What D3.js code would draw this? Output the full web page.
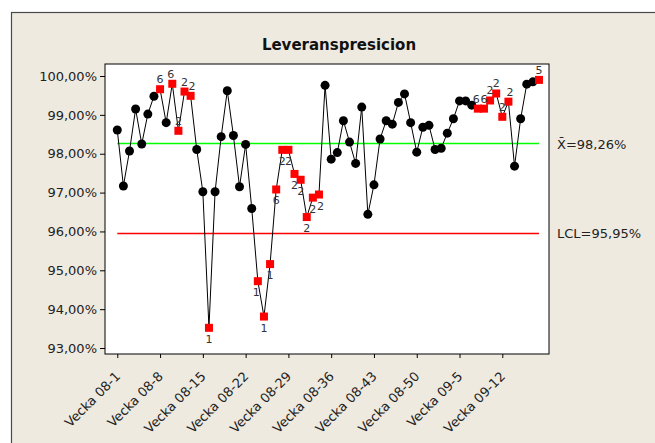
<!DOCTYPE html>
<html>
<head>
<meta charset="utf-8">
<script src="https://cdn.jsdelivr.net/npm/d3@7"></script>
<style>
  body { margin: 0; background: #fff; }
  text { font-family: "DejaVu Sans", sans-serif; }
</style>
</head>
<body>
<svg id="chart"></svg>
<script>
// kategorier (veckor)
var weeks = [
  "Vecka 08-1", "Vecka 08-2", "Vecka 08-3", "Vecka 08-4", "Vecka 08-5", "Vecka 08-6", "Vecka 08-7",
  "Vecka 08-8", "Vecka 08-9", "Vecka 08-10", "Vecka 08-11", "Vecka 08-12", "Vecka 08-13", "Vecka 08-14",
  "Vecka 08-15", "Vecka 08-16", "Vecka 08-17", "Vecka 08-18", "Vecka 08-19", "Vecka 08-20", "Vecka 08-21",
  "Vecka 08-22", "Vecka 08-23", "Vecka 08-24", "Vecka 08-25", "Vecka 08-26", "Vecka 08-27", "Vecka 08-28",
  "Vecka 08-29", "Vecka 08-30", "Vecka 08-31", "Vecka 08-32", "Vecka 08-33", "Vecka 08-34", "Vecka 08-35",
  "Vecka 08-36", "Vecka 08-37", "Vecka 08-38", "Vecka 08-39", "Vecka 08-40", "Vecka 08-41", "Vecka 08-42",
  "Vecka 08-43", "Vecka 08-44", "Vecka 08-45", "Vecka 08-46", "Vecka 08-47", "Vecka 08-48", "Vecka 08-49",
  "Vecka 08-50", "Vecka 08-51", "Vecka 08-52", "Vecka 09-1", "Vecka 09-2", "Vecka 09-3", "Vecka 09-4",
  "Vecka 09-5", "Vecka 09-6", "Vecka 09-7", "Vecka 09-8", "Vecka 09-9", "Vecka 09-10", "Vecka 09-11",
  "Vecka 09-12", "Vecka 09-13", "Vecka 09-14", "Vecka 09-15", "Vecka 09-16", "Vecka 09-17", "Vecka 09-18"
];

// leveransprecision i procent
var values = [
  98.61, 97.17, 98.07, 99.15, 98.25, 99.02, 99.48, 99.66, 98.80, 99.80,
  98.59, 99.60, 99.49, 98.11, 97.02, 93.52, 97.02, 98.44, 99.62, 98.47,
  97.15, 98.24, 96.59, 94.72, 93.81, 95.16, 97.08, 98.10, 98.10, 97.48,
  97.33, 96.37, 96.87, 96.95, 99.76, 97.86, 98.03, 98.85, 98.30, 97.75,
  99.20, 96.44, 97.20, 98.38, 98.85, 98.76, 99.32, 99.54, 98.80, 98.04,
  98.68, 98.73, 98.11, 98.14, 98.53, 98.90, 99.36, 99.36, 99.25, 99.16,
  99.16, 99.37, 99.55, 98.95, 99.34, 97.68, 98.90, 99.79, 99.85, 99.90
];

// vilket test som slog larm ("" = inget)
var tests = [
  "", "", "", "", "", "", "", "6", "", "6",
  "2", "2", "2", "", "", "1", "", "", "", "",
  "", "", "", "1", "1", "1", "6", "2", "2", "2",
  "2", "2", "2", "2", "", "", "", "", "", "",
  "", "", "", "", "", "", "", "", "", "",
  "", "", "", "", "", "", "", "", "", "6",
  "6", "2", "2", "2", "2", "", "", "", "", "5"
];

var yTicks = [93, 94, 95, 96, 97, 98, 99, 100];
var xTicks = [0, 7, 14, 21, 28, 35, 42, 49, 56, 63];
var centerLine = 98.26;
var lcl = 95.95;

var W = 655, H = 443;
var plot = { left: 105, top: 64, right: 549, bottom: 354 };

var svg = d3.select("#chart").attr("width", W).attr("height", H);

// bakgrund / fönsterram
svg.append("rect")
  .attr("x", 11.5).attr("y", 12.5)
  .attr("width", 680).attr("height", 460)
  .attr("fill", "#eeeae0")
  .attr("stroke", "#4a4a4a")
  .attr("stroke-width", 1.2);

svg.append("text")
  .attr("x", 339).attr("y", 50)
  .attr("text-anchor", "middle")
  .style("font-size", "15px")
  .style("font-weight", "bold")
  .attr("fill", "#111")
  .text("Leveranspresicion");

var x = d3.scaleLinear()
  .domain([-2.01, 70.64])
  .range([plot.left, plot.right]);

var y = d3.scaleLinear()
  .domain([92.846, 100.309])
  .range([plot.bottom, plot.top]);

svg.append("rect")
  .attr("x", plot.left).attr("y", plot.top)
  .attr("width", plot.right - plot.left).attr("height", plot.bottom - plot.top)
  .attr("fill", "#fff")
  .attr("stroke", "#000")
  .attr("stroke-width", 1);

var sv = d3.formatLocale({ decimal: ",", thousands: " ", grouping: [3], currency: ["", " kr"] });
var fmt = sv.format(".2f");

// y-axel
var yaxis = svg.append("g")
  .attr("transform", "translate(" + plot.left + ",0)")
  .call(d3.axisLeft(y).tickValues(yTicks).tickSize(5).tickPadding(3)
    .tickFormat(function (d) { return fmt(d) + "%"; }));
yaxis.select(".domain").remove();
yaxis.selectAll("text").style("font-size", "13px").style("font-family", "DejaVu Sans").attr("fill", "#222");

// x-axel
var xaxis = svg.append("g")
  .attr("transform", "translate(0," + plot.bottom + ")")
  .call(d3.axisBottom(x).tickValues(xTicks).tickSize(4)
    .tickFormat(function (i) { return weeks[i]; }));
xaxis.select(".domain").remove();
xaxis.selectAll("text")
  .style("font-size", "13px").style("font-family", "DejaVu Sans").attr("fill", "#222")
  .attr("text-anchor", "end")
  .attr("x", 0).attr("y", 0).attr("dy", "0.35em")
  .attr("transform", "translate(0,20) rotate(-45)");

// centrumlinje och LCL
svg.append("line")
  .attr("x1", x(0)).attr("x2", x(values.length - 1))
  .attr("y1", y(centerLine)).attr("y2", y(centerLine))
  .attr("stroke", "#00ff00").attr("stroke-width", 1.5);
svg.append("line")
  .attr("x1", x(0)).attr("x2", x(values.length - 1))
  .attr("y1", y(lcl)).attr("y2", y(lcl))
  .attr("stroke", "#ff0000").attr("stroke-width", 1.5);

svg.append("text")
  .attr("x", 557).attr("y", y(centerLine)).attr("dy", "0.38em")
  .style("font-size", "13px").attr("fill", "#222")
  .text("X\u0304=" + fmt(centerLine) + "%");
svg.append("text")
  .attr("x", 557).attr("y", y(lcl)).attr("dy", "0.38em")
  .style("font-size", "13px").attr("fill", "#222")
  .text("LCL=" + fmt(lcl) + "%");

// linjen
var line = d3.line()
  .x(function (d, i) { return x(i); })
  .y(function (d) { return y(d); });
svg.append("path")
  .datum(values)
  .attr("d", line)
  .attr("fill", "none")
  .attr("stroke", "#000")
  .attr("stroke-width", 1);

var pts = values.map(function (v, i) { return { i: i, v: v, t: tests[i] }; });

svg.selectAll("circle.ok")
  .data(pts.filter(function (d) { return d.t === ""; }))
  .enter().append("circle")
  .attr("class", "ok")
  .attr("cx", function (d) { return x(d.i); })
  .attr("cy", function (d) { return y(d.v); })
  .attr("r", 4.5)
  .attr("fill", "#000");

var bad = pts.filter(function (d) { return d.t !== ""; });
svg.selectAll("rect.bad")
  .data(bad)
  .enter().append("rect")
  .attr("class", "bad")
  .attr("x", function (d) { return x(d.i) - 4; })
  .attr("y", function (d) { return y(d.v) - 4; })
  .attr("width", 8).attr("height", 8)
  .attr("fill", "#ff0000");

// testnummer, tätt liggande etiketter flyttas isär lite
svg.selectAll("text.test")
  .data(bad)
  .enter().append("text")
  .attr("class", "test")
  .attr("x", function (d) {
    var prev = tests[d.i - 1], next = tests[d.i + 1];
    if (prev && !next) return x(d.i) + 1.5;
    if (next && !prev) return x(d.i) - 1.5;
    return x(d.i);
  })
  .attr("y", function (d) { return d.v > centerLine ? y(d.v) - 6 : y(d.v) + 15; })
  .attr("text-anchor", "middle")
  .style("font-size", "11px")
  .attr("fill", "#333")
  .text(function (d) { return d.t; });
</script>
</body>
</html>
